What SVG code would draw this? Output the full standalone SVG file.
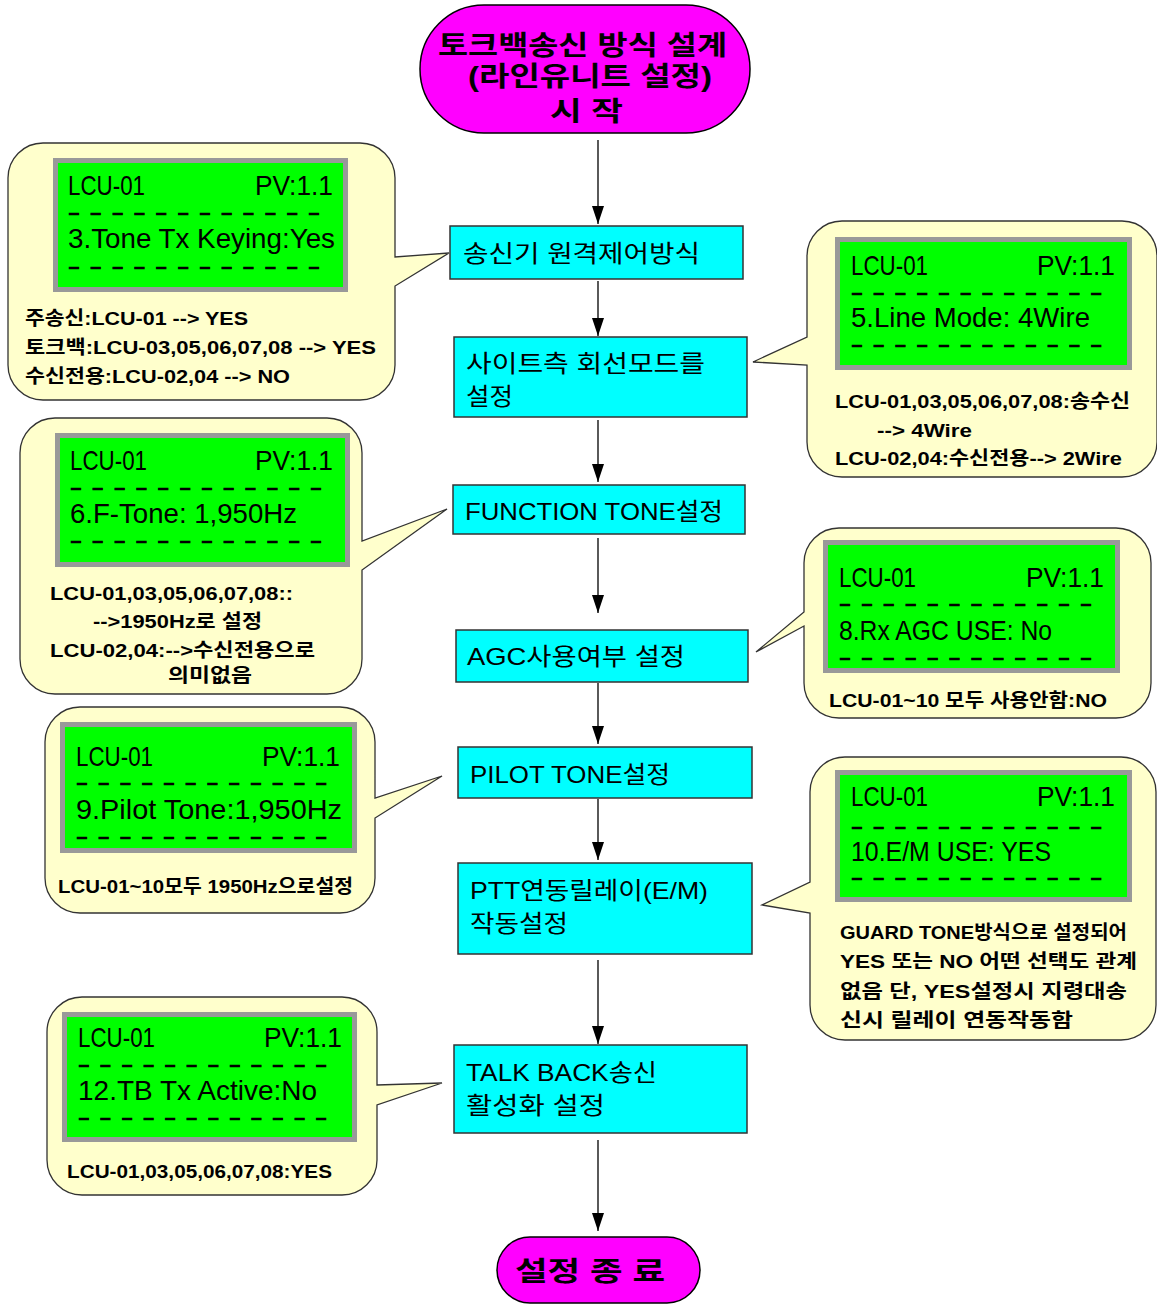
<svg xmlns="http://www.w3.org/2000/svg" width="1157" height="1305" viewBox="0 0 1157 1305">
  <style>
    .term{fill:#FF00FF;stroke:#000;stroke-width:1.5}
    .tt{font-family:"Liberation Sans","Noto Sans CJK KR",sans-serif;font-weight:bold;font-size:27px;fill:#000}
    .bx{fill:#00FFFF;stroke:#333;stroke-width:1.5}
    .bt{font-family:"Liberation Sans","Noto Sans CJK KR",sans-serif;font-size:24px;fill:#000}
    .bub{fill:#FFFFCC;stroke:#333;stroke-width:1.3}
    .lcd{fill:#00FF00;stroke:#999;stroke-width:5}
    .lt{font-family:"Liberation Sans","Noto Sans CJK KR",sans-serif;font-size:28px;fill:#000}
    .ld{font-family:"Liberation Sans",sans-serif;font-size:16px;font-weight:bold;fill:#000;stroke:#000;stroke-width:0.6}
    .nt{font-family:"Liberation Sans","Noto Sans CJK KR",sans-serif;font-weight:bold;font-size:19px;fill:#000}
    .cn{stroke:#000;stroke-width:1.3;fill:none}
  </style>
  <defs>
    <marker id="ah" viewBox="0 0 18 12" refX="18" refY="6" markerWidth="18" markerHeight="12" markerUnits="userSpaceOnUse" orient="auto">
      <path d="M0,0 L18,6 L0,12 z" fill="#000"/>
    </marker>
  </defs>

  <rect width="1157" height="1305" fill="#fff"/>

  <!-- flow connectors -->
  <g id="connectors">
    <line class="cn" x1="598" y1="140" x2="598" y2="224" marker-end="url(#ah)"/>
    <line class="cn" x1="598" y1="281" x2="598" y2="336" marker-end="url(#ah)"/>
    <line class="cn" x1="598" y1="420" x2="598" y2="482" marker-end="url(#ah)"/>
    <line class="cn" x1="598" y1="538" x2="598" y2="613" marker-end="url(#ah)"/>
    <line class="cn" x1="598" y1="683" x2="598" y2="744" marker-end="url(#ah)"/>
    <line class="cn" x1="598" y1="799" x2="598" y2="860" marker-end="url(#ah)"/>
    <line class="cn" x1="598" y1="960" x2="598" y2="1044" marker-end="url(#ah)"/>
    <line class="cn" x1="598" y1="1140" x2="598" y2="1231" marker-end="url(#ah)"/>
  </g>

  <!-- start terminator -->
  <g id="start">
    <rect class="term" x="420" y="5" width="330" height="128" rx="64" ry="64"/>
    <text class="tt" x="438" y="55" textLength="289" lengthAdjust="spacingAndGlyphs">토크백송신 방식 설계</text>
    <text class="tt" x="468" y="86" textLength="244" lengthAdjust="spacingAndGlyphs">(라인유니트 설정)</text>
    <text class="tt" x="550" y="121" textLength="73" lengthAdjust="spacingAndGlyphs">시 작</text>
  </g>

  <!-- process steps -->
  <g id="step1">
    <rect class="bx" x="450" y="226" width="293" height="53"/>
    <text class="bt" x="463" y="262" textLength="237" lengthAdjust="spacingAndGlyphs">송신기 원격제어방식</text>
  </g>
  <g id="step2">
    <rect class="bx" x="454" y="337" width="293" height="80"/>
    <text class="bt" x="466" y="372" textLength="239" lengthAdjust="spacingAndGlyphs">사이트측 회선모드를</text>
    <text class="bt" x="466" y="405" textLength="47" lengthAdjust="spacingAndGlyphs">설정</text>
  </g>
  <g id="step3">
    <rect class="bx" x="453" y="485" width="292" height="49"/>
    <text class="bt" x="465" y="520" textLength="258" lengthAdjust="spacingAndGlyphs">FUNCTION TONE설정</text>
  </g>
  <g id="step4">
    <rect class="bx" x="456" y="630" width="292" height="52"/>
    <text class="bt" x="467" y="665" textLength="218" lengthAdjust="spacingAndGlyphs">AGC사용여부 설정</text>
  </g>
  <g id="step5">
    <rect class="bx" x="458" y="747" width="294" height="51"/>
    <text class="bt" x="470" y="783" textLength="200" lengthAdjust="spacingAndGlyphs">PILOT TONE설정</text>
  </g>
  <g id="step6">
    <rect class="bx" x="458" y="863" width="294" height="91"/>
    <text class="bt" x="470" y="899" textLength="238" lengthAdjust="spacingAndGlyphs">PTT연동릴레이(E/M)</text>
    <text class="bt" x="470" y="932" textLength="98" lengthAdjust="spacingAndGlyphs">작동설정</text>
  </g>
  <g id="step7">
    <rect class="bx" x="454" y="1045" width="293" height="88"/>
    <text class="bt" x="466" y="1081" textLength="191" lengthAdjust="spacingAndGlyphs">TALK BACK송신</text>
    <text class="bt" x="466" y="1114" textLength="139" lengthAdjust="spacingAndGlyphs">활성화 설정</text>
  </g>

  <!-- end terminator -->
  <g id="end">
    <rect class="term" x="497" y="1237" width="203" height="66" rx="33" ry="33"/>
    <text class="tt" x="515" y="1281" font-size="30" textLength="150" lengthAdjust="spacingAndGlyphs">설정 종 료</text>
  </g>

  <!-- note: tone tx keying -->
  <g id="note1">
    <path class="bub" d="M43,143 H360 A35,35 0 0 1 395,178 V257 L449,253 L395,286 V365 A35,35 0 0 1 360,400 H43 A35,35 0 0 1 8,365 V178 A35,35 0 0 1 43,143 Z"/>
    <rect class="lcd" x="55.5" y="160.5" width="290" height="129"/>
    <text class="lt" x="68" y="195" textLength="77" lengthAdjust="spacingAndGlyphs">LCU-01</text>
    <text class="lt" x="255" y="195" textLength="78" lengthAdjust="spacingAndGlyphs">PV:1.1</text>
    <text class="ld" x="68" y="217.5" textLength="252" lengthAdjust="spacingAndGlyphs">- - - - - - - - - - - -</text>
    <text class="lt" x="68" y="248" textLength="267" lengthAdjust="spacingAndGlyphs">3.Tone Tx Keying:Yes</text>
    <text class="ld" x="68" y="271.5" textLength="252" lengthAdjust="spacingAndGlyphs">- - - - - - - - - - - -</text>
    <text class="nt" x="25" y="325" textLength="223" lengthAdjust="spacingAndGlyphs">주송신:LCU-01 --&gt; YES</text>
    <text class="nt" x="25" y="354" textLength="351" lengthAdjust="spacingAndGlyphs">토크백:LCU-03,05,06,07,08 --&gt; YES</text>
    <text class="nt" x="25" y="383" textLength="265" lengthAdjust="spacingAndGlyphs">수신전용:LCU-02,04 --&gt; NO</text>
  </g>

  <!-- note: line mode -->
  <g id="note2">
    <path class="bub" d="M842,221 H1122 A35,35 0 0 1 1157,256 V442 A35,35 0 0 1 1122,477 H842 A35,35 0 0 1 807,442 V365 L753,362 L807,337 V256 A35,35 0 0 1 842,221 Z"/>
    <rect class="lcd" x="837.5" y="239.5" width="292" height="128"/>
    <text class="lt" x="851" y="275" textLength="77" lengthAdjust="spacingAndGlyphs">LCU-01</text>
    <text class="lt" x="1037" y="275" textLength="78" lengthAdjust="spacingAndGlyphs">PV:1.1</text>
    <text class="ld" x="851" y="297.5" textLength="251" lengthAdjust="spacingAndGlyphs">- - - - - - - - - - - -</text>
    <text class="lt" x="851" y="327" textLength="239" lengthAdjust="spacingAndGlyphs">5.Line Mode: 4Wire</text>
    <text class="ld" x="851" y="349.5" textLength="251" lengthAdjust="spacingAndGlyphs">- - - - - - - - - - - -</text>
    <text class="nt" x="835" y="408" textLength="295" lengthAdjust="spacingAndGlyphs">LCU-01,03,05,06,07,08:송수신</text>
    <text class="nt" x="877" y="437" textLength="95" lengthAdjust="spacingAndGlyphs">--&gt; 4Wire</text>
    <text class="nt" x="835" y="465" textLength="287" lengthAdjust="spacingAndGlyphs">LCU-02,04:수신전용--&gt; 2Wire</text>
  </g>

  <!-- note: function tone -->
  <g id="note3">
    <path class="bub" d="M55,418 H327 A35,35 0 0 1 362,453 V541 L447,509 L362,570 V659 A35,35 0 0 1 327,694 H55 A35,35 0 0 1 20,659 V453 A35,35 0 0 1 55,418 Z"/>
    <rect class="lcd" x="57.5" y="435.5" width="290" height="129"/>
    <text class="lt" x="70" y="470" textLength="77" lengthAdjust="spacingAndGlyphs">LCU-01</text>
    <text class="lt" x="255" y="470" textLength="78" lengthAdjust="spacingAndGlyphs">PV:1.1</text>
    <text class="ld" x="70" y="492.5" textLength="252" lengthAdjust="spacingAndGlyphs">- - - - - - - - - - - -</text>
    <text class="lt" x="70" y="523" textLength="227" lengthAdjust="spacingAndGlyphs">6.F-Tone: 1,950Hz</text>
    <text class="ld" x="70" y="545.5" textLength="252" lengthAdjust="spacingAndGlyphs">- - - - - - - - - - - -</text>
    <text class="nt" x="50" y="600" textLength="243" lengthAdjust="spacingAndGlyphs">LCU-01,03,05,06,07,08::</text>
    <text class="nt" x="93" y="628" textLength="169" lengthAdjust="spacingAndGlyphs">--&gt;1950Hz로 설정</text>
    <text class="nt" x="50" y="657" textLength="265" lengthAdjust="spacingAndGlyphs">LCU-02,04:--&gt;수신전용으로</text>
    <text class="nt" x="168" y="682" textLength="84" lengthAdjust="spacingAndGlyphs">의미없음</text>
  </g>

  <!-- note: rx agc -->
  <g id="note4">
    <path class="bub" d="M839,528 H1116 A35,35 0 0 1 1151,563 V683 A35,35 0 0 1 1116,718 H839 A35,35 0 0 1 804,683 V626 L756,652 L804,612 V563 A35,35 0 0 1 839,528 Z"/>
    <rect class="lcd" x="825.5" y="542.5" width="292" height="128"/>
    <text class="lt" x="839" y="587" textLength="77" lengthAdjust="spacingAndGlyphs">LCU-01</text>
    <text class="lt" x="1026" y="587" textLength="78" lengthAdjust="spacingAndGlyphs">PV:1.1</text>
    <text class="ld" x="839" y="608.5" textLength="253" lengthAdjust="spacingAndGlyphs">- - - - - - - - - - - -</text>
    <text class="lt" x="839" y="640" textLength="213" lengthAdjust="spacingAndGlyphs">8.Rx AGC USE: No</text>
    <text class="ld" x="839" y="662.5" textLength="253" lengthAdjust="spacingAndGlyphs">- - - - - - - - - - - -</text>
    <text class="nt" x="829" y="707" textLength="278" lengthAdjust="spacingAndGlyphs">LCU-01~10 모두 사용안함:NO</text>
  </g>

  <!-- note: pilot tone -->
  <g id="note5">
    <path class="bub" d="M80,707 H340 A35,35 0 0 1 375,742 V798 L442,776 L375,818 V878 A35,35 0 0 1 340,913 H80 A35,35 0 0 1 45,878 V742 A35,35 0 0 1 80,707 Z"/>
    <rect class="lcd" x="62.5" y="724.5" width="292" height="126"/>
    <text class="lt" x="76" y="766" textLength="77" lengthAdjust="spacingAndGlyphs">LCU-01</text>
    <text class="lt" x="262" y="766" textLength="78" lengthAdjust="spacingAndGlyphs">PV:1.1</text>
    <text class="ld" x="76" y="788" textLength="251" lengthAdjust="spacingAndGlyphs">- - - - - - - - - - - -</text>
    <text class="lt" x="76" y="819" textLength="266" lengthAdjust="spacingAndGlyphs">9.Pilot Tone:1,950Hz</text>
    <text class="ld" x="76" y="841.5" textLength="251" lengthAdjust="spacingAndGlyphs">- - - - - - - - - - - -</text>
    <text class="nt" x="58" y="893" textLength="295" lengthAdjust="spacingAndGlyphs">LCU-01~10모두 1950Hz으로설정</text>
  </g>

  <!-- note: e/m relay -->
  <g id="note6">
    <path class="bub" d="M845,757 H1121 A35,35 0 0 1 1156,792 V1005 A35,35 0 0 1 1121,1040 H845 A35,35 0 0 1 810,1005 V913 L762,905 L810,882 V792 A35,35 0 0 1 845,757 Z"/>
    <rect class="lcd" x="837.5" y="772.5" width="292" height="127"/>
    <text class="lt" x="851" y="806" textLength="77" lengthAdjust="spacingAndGlyphs">LCU-01</text>
    <text class="lt" x="1037" y="806" textLength="78" lengthAdjust="spacingAndGlyphs">PV:1.1</text>
    <text class="ld" x="851" y="831.5" textLength="251" lengthAdjust="spacingAndGlyphs">- - - - - - - - - - - -</text>
    <text class="lt" x="851" y="861" textLength="200" lengthAdjust="spacingAndGlyphs">10.E/M USE: YES</text>
    <text class="ld" x="851" y="882.5" textLength="251" lengthAdjust="spacingAndGlyphs">- - - - - - - - - - - -</text>
    <text class="nt" x="840" y="939" textLength="287" lengthAdjust="spacingAndGlyphs">GUARD TONE방식으로 설정되어</text>
    <text class="nt" x="840" y="968" textLength="297" lengthAdjust="spacingAndGlyphs">YES 또는 NO 어떤 선택도 관계</text>
    <text class="nt" x="840" y="998" textLength="287" lengthAdjust="spacingAndGlyphs">없음 단, YES설정시 지령대송</text>
    <text class="nt" x="840" y="1027" textLength="233" lengthAdjust="spacingAndGlyphs">신시 릴레이 연동작동함</text>
  </g>

  <!-- note: talk back tx -->
  <g id="note7">
    <path class="bub" d="M82,997 H342 A35,35 0 0 1 377,1032 V1085 L442,1083 L377,1105 V1160 A35,35 0 0 1 342,1195 H82 A35,35 0 0 1 47,1160 V1032 A35,35 0 0 1 82,997 Z"/>
    <rect class="lcd" x="64.5" y="1014.5" width="290" height="125"/>
    <text class="lt" x="78" y="1047" textLength="77" lengthAdjust="spacingAndGlyphs">LCU-01</text>
    <text class="lt" x="264" y="1047" textLength="78" lengthAdjust="spacingAndGlyphs">PV:1.1</text>
    <text class="ld" x="78" y="1069.5" textLength="249" lengthAdjust="spacingAndGlyphs">- - - - - - - - - - - -</text>
    <text class="lt" x="78" y="1100" textLength="239" lengthAdjust="spacingAndGlyphs">12.TB Tx Active:No</text>
    <text class="ld" x="78" y="1122.5" textLength="249" lengthAdjust="spacingAndGlyphs">- - - - - - - - - - - -</text>
    <text class="nt" x="67" y="1178" textLength="265" lengthAdjust="spacingAndGlyphs">LCU-01,03,05,06,07,08:YES</text>
  </g>
</svg>
